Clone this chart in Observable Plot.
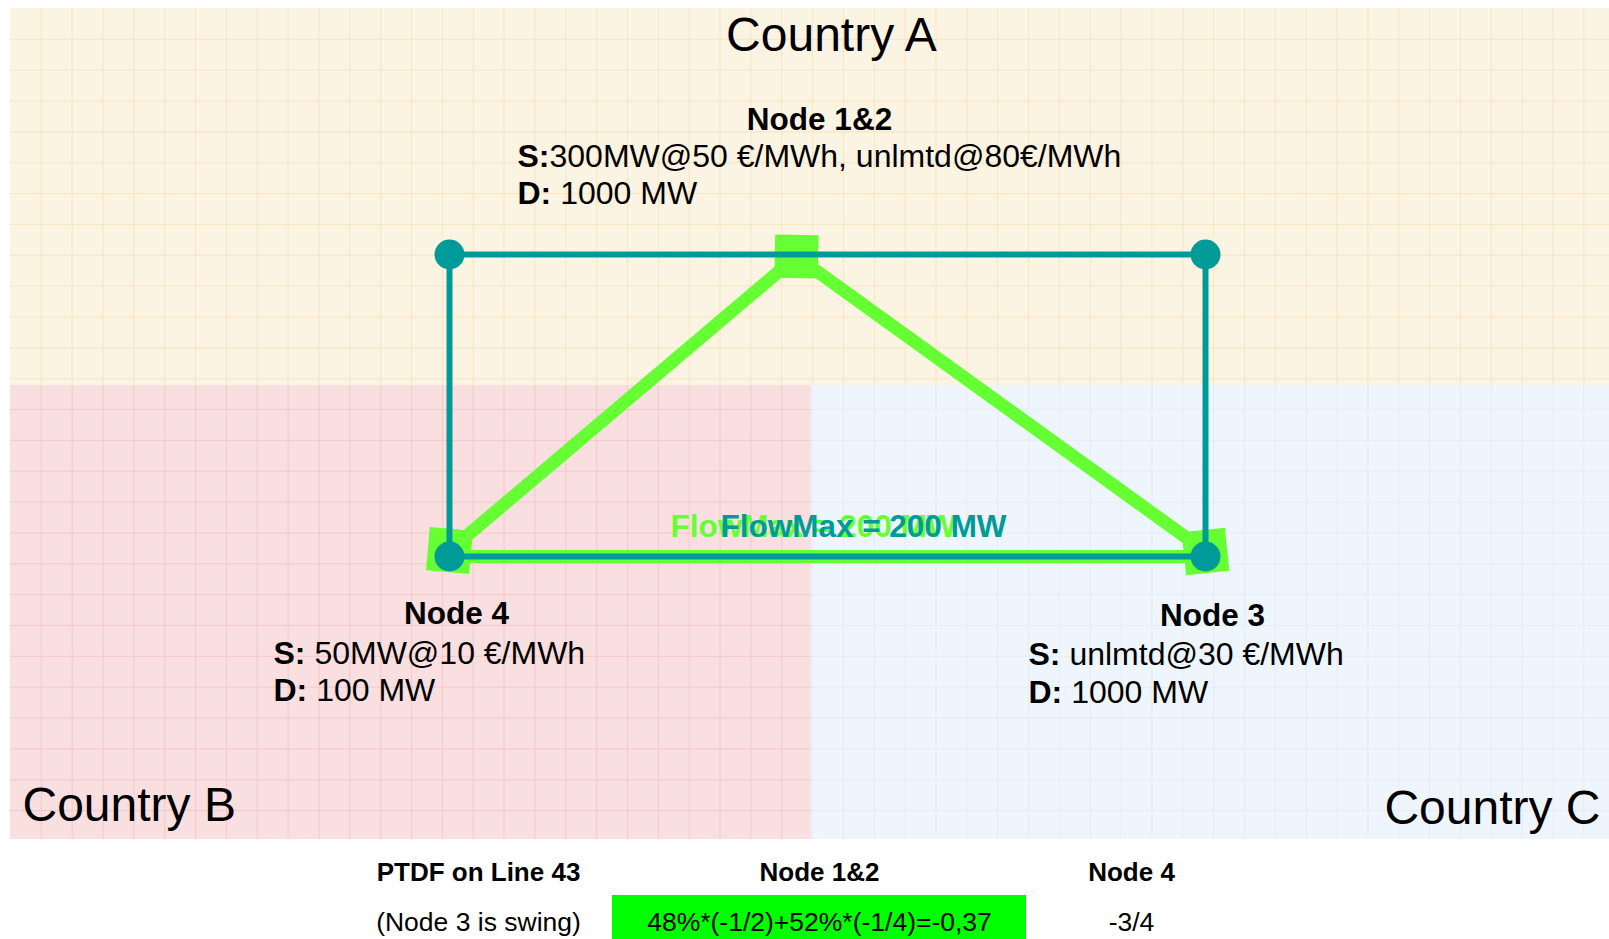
<!DOCTYPE html>
<html><head><meta charset="utf-8">
<script src="https://cdn.jsdelivr.net/npm/d3@7"></script>
<script src="https://cdn.jsdelivr.net/npm/@observablehq/plot@0.6"></script>
<style>html,body{margin:0;padding:0;background:#fff;overflow:hidden}#chart svg{display:block}</style>
</head><body><div id="chart"></div>
<script>
// ---- data ----
const countries = ["Country A", "Country B", "Country C"];
const countryX1 = [10, 10, 811];
const countryX2 = [1609, 811, 1609];
const countryY1 = [8, 385, 385];
const countryY2 = [385, 839, 839];
const countryLabelX = [831, 22, 1600];
const countryLabelY = [50, 820, 823];

const nodeNames = ["Node 1", "Node 2", "Node 3", "Node 4"];
const nodeX = [449, 1205, 1205, 449];
const nodeY = [254, 254, 556, 556];
const lineFrom = ["Node 1", "Node 2", "Node 3", "Node 4"];
const lineTo = ["Node 2", "Node 3", "Node 4", "Node 1"];

const flowStops = ["Node 4", "Node 1&2", "Node 3"];
const flowX = [449, 796, 1205];
const flowY = [550, 256, 551];
const line43From = "Node 4", line43To = "Node 3";
const flowMaxLabel = "FlowMax = 200 MW";
const flowMaxX = [813, 863];
const flowMaxY = [536, 536];

const nodeLabels = ["Node 1&2", "Node 4", "Node 3"];
const nodeLabelX = [819, 456, 1212];
const nodeLabelY = [129, 623, 625];
const supplyText = ["S:300MW@50 €/MWh, unlmtd@80€/MWh", "S: 50MW@10 €/MWh", "S: unlmtd@30 €/MWh"];
const demandText = ["D: 1000 MW", "D: 100 MW", "D: 1000 MW"];
const blockX = [517, 273, 1028];
const supplyY = [166, 663, 664];
const demandY = [203, 700, 702];

const tableHeaders = ["PTDF on Line 43", "Node 1&2", "Node 4"];
const tableValues = ["(Node 3 is swing)", "48%*(-1/2)+52%*(-1/4)=-0,37", "-3/4"];
const tableColX = [478, 819, 1131];
const tableHeaderY = 880, tableValueY = 930;
const highlightCol = 1;
const highlightX = [612, 1026], highlightY = [895, 939];

// ---- styles ----
const FONT = "'Liberation Sans', Arial, Helvetica, sans-serif";
const TEAL = "#009b98", GREEN = "#66ff33";
const regionFill = ["#fcf4e3", "#fadfe1", "#eff5fc"];
const regionGrid = ["#f3dca6", "#f1b9bd", "#dbe8f7"];
const labelAnchor = ["middle", "start", "end"];

// ---- tables ----
const regions = countries.map((c, i) => ({c, x1: countryX1[i], x2: countryX2[i], y1: countryY1[i], y2: countryY2[i], lx: countryLabelX[i], ly: countryLabelY[i]}));
const nodes = nodeNames.map((n, i) => ({n, x: nodeX[i], y: nodeY[i]}));
const nodeBy = Object.fromEntries(nodes.map(d => [d.n, d]));
const lines = lineFrom.map((f, i) => ({x1: nodeBy[f].x, y1: nodeBy[f].y, x2: nodeBy[lineTo[i]].x, y2: nodeBy[lineTo[i]].y}));
const flow = flowStops.map((s, i) => ({s, x: flowX[i], y: flowY[i]}));
const line43 = [{x1: nodeBy[line43From].x, y1: nodeBy[line43From].y, x2: nodeBy[line43To].x, y2: nodeBy[line43To].y}];

// measure text for mixed bold / regular lines
const ctx = document.createElement("canvas").getContext("2d");
function w(t, weight, size) { ctx.font = `${weight} ${size}px ${FONT}`; return ctx.measureText(t).width; }
const FS = 32;
function splitLine(s, x, y) {
  const k = s.indexOf(":") + 1;
  const head = s.slice(0, k);
  let rest = s.slice(k);
  let off = w(head, "bold", FS);
  if (rest.startsWith(" ")) { off += w(" ", "normal", FS); rest = rest.trimStart(); }
  return {head, rest, x, y, rx: x + off};
}
const infoLines = [
  ...supplyText.map((s, i) => splitLine(s, blockX[i], supplyY[i])),
  ...demandText.map((s, i) => splitLine(s, blockX[i], demandY[i]))
];

// graph-paper grid lines per region
const step = 30.85;
const gridV = [], gridH = [];
regions.forEach((r, i) => {
  for (let x = 10 + step; x < r.x2; x += step) if (x > r.x1) gridV.push({x, y1: r.y1, y2: r.y2, i});
  for (let y = 8 + step; y < r.y2; y += step) if (y > r.y1) gridH.push({y, x1: r.x1, x2: r.x2, i});
});

const tableHead = tableHeaders.map((t, i) => ({t, x: tableColX[i], y: tableHeaderY}));
const tableVal = tableValues.map((t, i) => ({t, x: tableColX[i], y: tableValueY}));

const chart = Plot.plot({
  width: 1609, height: 939, margin: 0,
  x: {domain: [0, 1609], range: [0, 1609], axis: null},
  y: {domain: [0, 939], range: [0, 939], axis: null},
  style: {fontFamily: FONT, background: "#ffffff"},
  marks: [
    ...regions.map((r, i) => Plot.rect([r], {x1: "x1", x2: "x2", y1: "y1", y2: "y2", fill: regionFill[i]})),
    ...regions.map((r, i) => Plot.ruleX(gridV.filter(d => d.i === i), {x: "x", y1: "y1", y2: "y2", stroke: regionGrid[i], strokeWidth: 1, strokeOpacity: 0.6})),
    ...regions.map((r, i) => Plot.ruleY(gridH.filter(d => d.i === i), {y: "y", x1: "x1", x2: "x2", stroke: regionGrid[i], strokeWidth: 1, strokeOpacity: 0.6})),
    // highlighted flow path
    Plot.line(flow, {x: "x", y: "y", stroke: GREEN, strokeWidth: 13, strokeLinejoin: "miter"}),
    Plot.link(line43, {x1: "x1", y1: "y1", x2: "x2", y2: "y2", stroke: GREEN, strokeWidth: 13}),
    Plot.dot(flow, {x: "x", y: "y", symbol: "square", r: 24.5, fill: GREEN, stroke: "none", rotate: (d, i) => [5, 1, -6][i]}),
    // network lines and nodes
    Plot.link(lines, {x1: "x1", y1: "y1", x2: "x2", y2: "y2", stroke: TEAL, strokeWidth: 6}),
    Plot.dot(nodes, {x: "x", y: "y", r: 15, fill: TEAL, stroke: "none"}),
    // flowmax labels
    Plot.text([flowMaxLabel], {x: () => flowMaxX[0], y: () => flowMaxY[0], text: d => d, fill: GREEN, fontSize: 31.5, fontWeight: "bold", textAnchor: "middle", lineAnchor: "bottom"}),
    Plot.text([flowMaxLabel], {x: () => flowMaxX[1], y: () => flowMaxY[1], text: d => d, fill: TEAL, fontSize: 31.5, fontWeight: "bold", textAnchor: "middle", lineAnchor: "bottom"}),
    // country labels
    ...regions.map((r, i) => Plot.text([r], {x: "lx", y: "ly", text: "c", fontSize: 48, fill: "#000", lineAnchor: "bottom", textAnchor: labelAnchor[i]})),
    // node labels
    Plot.text(nodeLabels.map((t, i) => ({t, x: nodeLabelX[i], y: nodeLabelY[i]})), {x: "x", y: "y", text: "t", fontSize: 31.5, fontWeight: "bold", fill: "#000", textAnchor: "middle", lineAnchor: "bottom"}),
    Plot.text(infoLines, {x: "x", y: "y", text: "head", fontSize: FS, fontWeight: "bold", fill: "#000", textAnchor: "start", lineAnchor: "bottom"}),
    Plot.text(infoLines, {x: "rx", y: "y", text: "rest", fontSize: FS, fill: "#000", textAnchor: "start", lineAnchor: "bottom"}),
    // table
    Plot.rect([{x1: highlightX[0], x2: highlightX[1], y1: highlightY[0], y2: highlightY[1]}], {x1: "x1", x2: "x2", y1: "y1", y2: "y2", fill: "#00ff00"}),
    Plot.text(tableHead, {x: "x", y: "y", text: "t", fontSize: 26, fontWeight: "bold", fill: "#000", textAnchor: "middle", lineAnchor: "bottom"}),
    Plot.text(tableVal, {x: "x", y: "y", text: "t", fontSize: 26.5, fill: "#000", textAnchor: "middle", lineAnchor: "bottom"})
  ]
});
document.getElementById("chart").append(chart);
</script>
</body></html>
